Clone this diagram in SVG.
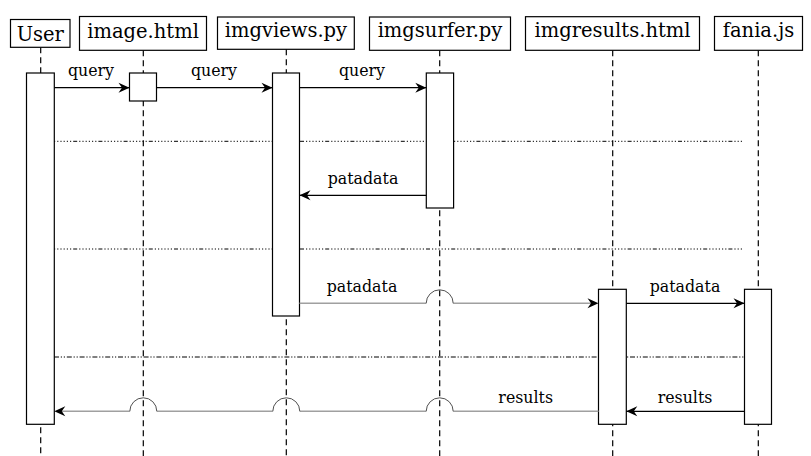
<svg xmlns="http://www.w3.org/2000/svg" width="811" height="456" viewBox="0 0 811 456">
<defs>
<style>
.hdr{fill:#fff;stroke:#000;stroke-width:1.2}
.ht{font-family:"DejaVu Serif",serif;font-size:19.5px;text-anchor:middle;fill:#000}
.lt{font-family:"DejaVu Serif",serif;font-size:15.8px;text-anchor:middle;fill:#000}
.life{stroke:#000;stroke-width:1.2;stroke-dasharray:6 4;fill:none}
.act{fill:#fff;stroke:#000;stroke-width:1.2}
.sep1{stroke:#000;stroke-width:1;fill:none;stroke-dasharray:1.2 2 1.2 2 1.2 2 1.2 2 1.2 2 1.2 2 4 2}
.sep2{stroke:#000;stroke-width:1;fill:none;stroke-dasharray:5 1.8 1.2 1.8 1.2 1.8}
.msg{stroke:#000;stroke-width:1.2;fill:none}
.gmsg{stroke:#a0a0a0;stroke-width:1.6;fill:none}
.jump{stroke:#505050;stroke-width:1;fill:none}
.head{fill:#000}
</style>
<marker id="ah" viewBox="-12 -6 13 12" refX="0" refY="0" markerWidth="13" markerHeight="12" orient="auto" markerUnits="userSpaceOnUse">
<path d="M0,0 L-11,-5 L-7.5,0 L-11,5 Z" fill="#000"/>
</marker>
</defs>
<rect width="811" height="456" fill="#fff"/>
<g id="lifelines">
<line class="life" x1="40.7" y1="47.3" x2="40.7" y2="456"/>
<line class="life" x1="143.3" y1="50.3" x2="143.3" y2="456"/>
<line class="life" x1="286.3" y1="49.3" x2="286.3" y2="456"/>
<line class="life" x1="439.7" y1="50.3" x2="439.7" y2="456"/>
<line class="life" x1="612.7" y1="50.3" x2="612.7" y2="456"/>
<line class="life" x1="758.3" y1="50.3" x2="758.3" y2="456"/>
</g>
<g id="separators">
<line class="sep1" x1="54" y1="141.3" x2="743" y2="141.3"/>
<line class="sep1" x1="54" y1="249" x2="743" y2="249"/>
<line class="sep2" x1="54" y1="357" x2="744" y2="357"/>
</g>
<g id="User">
<rect class="hdr" x="10.5" y="19.5" width="59.5" height="27.8"/>
<text class="ht" x="40.3" y="40.5">User</text>
<rect class="act" x="26.5" y="73" width="27.8" height="351.3"/>
</g>
<g id="image_html">
<rect class="hdr" x="79.5" y="16.5" width="127" height="33.8"/>
<text class="ht" x="143.1" y="37.5">image.html</text>
<rect class="act" x="129.5" y="73" width="27" height="28"/>
</g>
<g id="imgviews_py">
<rect class="hdr" x="217.5" y="17" width="136.8" height="32.3"/>
<text class="ht" x="285.9" y="36.8">imgviews.py</text>
<rect class="act" x="272.5" y="73" width="27" height="243"/>
</g>
<g id="imgsurfer_py">
<rect class="hdr" x="369.5" y="17" width="141" height="33.3"/>
<text class="ht" x="440" y="37">imgsurfer.py</text>
<rect class="act" x="426.3" y="73" width="27.3" height="135"/>
</g>
<g id="imgresults_html">
<rect class="hdr" x="525.5" y="16.7" width="174" height="33.6"/>
<text class="ht" x="612.5" y="37">imgresults.html</text>
<rect class="act" x="598.5" y="289.3" width="27.8" height="135"/>
</g>
<g id="fania_js">
<rect class="hdr" x="714.5" y="16.5" width="88" height="33.8"/>
<text class="ht" x="758.5" y="37.3">fania.js</text>
<rect class="act" x="744.5" y="289.3" width="27" height="135"/>
</g>
<g id="connectors">
<line class="msg" x1="54.3" y1="87.7" x2="129.5" y2="87.7" marker-end="url(#ah)"/>
<text class="lt" x="91" y="76">query</text>
<line class="msg" x1="156.5" y1="87.7" x2="272.5" y2="87.7" marker-end="url(#ah)"/>
<text class="lt" x="214" y="76">query</text>
<line class="msg" x1="299.5" y1="87.7" x2="426.3" y2="87.7" marker-end="url(#ah)"/>
<text class="lt" x="362" y="76">query</text>
<line class="msg" x1="426.3" y1="195.3" x2="299.5" y2="195.3" marker-end="url(#ah)"/>
<text class="lt" x="363" y="183.6">patadata</text>
<path class="gmsg" d="M299.5,303.3 H426.2 M453.2,303.3 H592"/>
<path class="jump" d="M426.2,303.3 A13.5,13.5 0 0 1 453.2,303.3"/>
<path class="head" d="M598.5,303.3 L587.5,298.3 L591,303.3 L587.5,308.3 Z"/>
<text class="lt" x="362" y="291.7">patadata</text>
<line class="msg" x1="626.3" y1="303.3" x2="744.5" y2="303.3" marker-end="url(#ah)"/>
<text class="lt" x="685" y="291.7">patadata</text>
<line class="msg" x1="744.5" y1="411.3" x2="626.3" y2="411.3" marker-end="url(#ah)"/>
<text class="lt" x="685" y="402.6">results</text>
<path class="gmsg" d="M598.5,411.3 H453.2 M426.2,411.3 H299.8 M272.8,411.3 H156.8 M129.8,411.3 H60"/>
<path class="jump" d="M453.2,411.3 A13.5,13.5 0 0 0 426.2,411.3 M299.8,411.3 A13.5,13.5 0 0 0 272.8,411.3 M156.8,411.3 A13.5,13.5 0 0 0 129.8,411.3"/>
<path class="head" d="M54.3,411.3 L65.3,406.3 L61.8,411.3 L65.3,416.3 Z"/>
<text class="lt" x="525.7" y="402.6">results</text>
</g>
</svg>
